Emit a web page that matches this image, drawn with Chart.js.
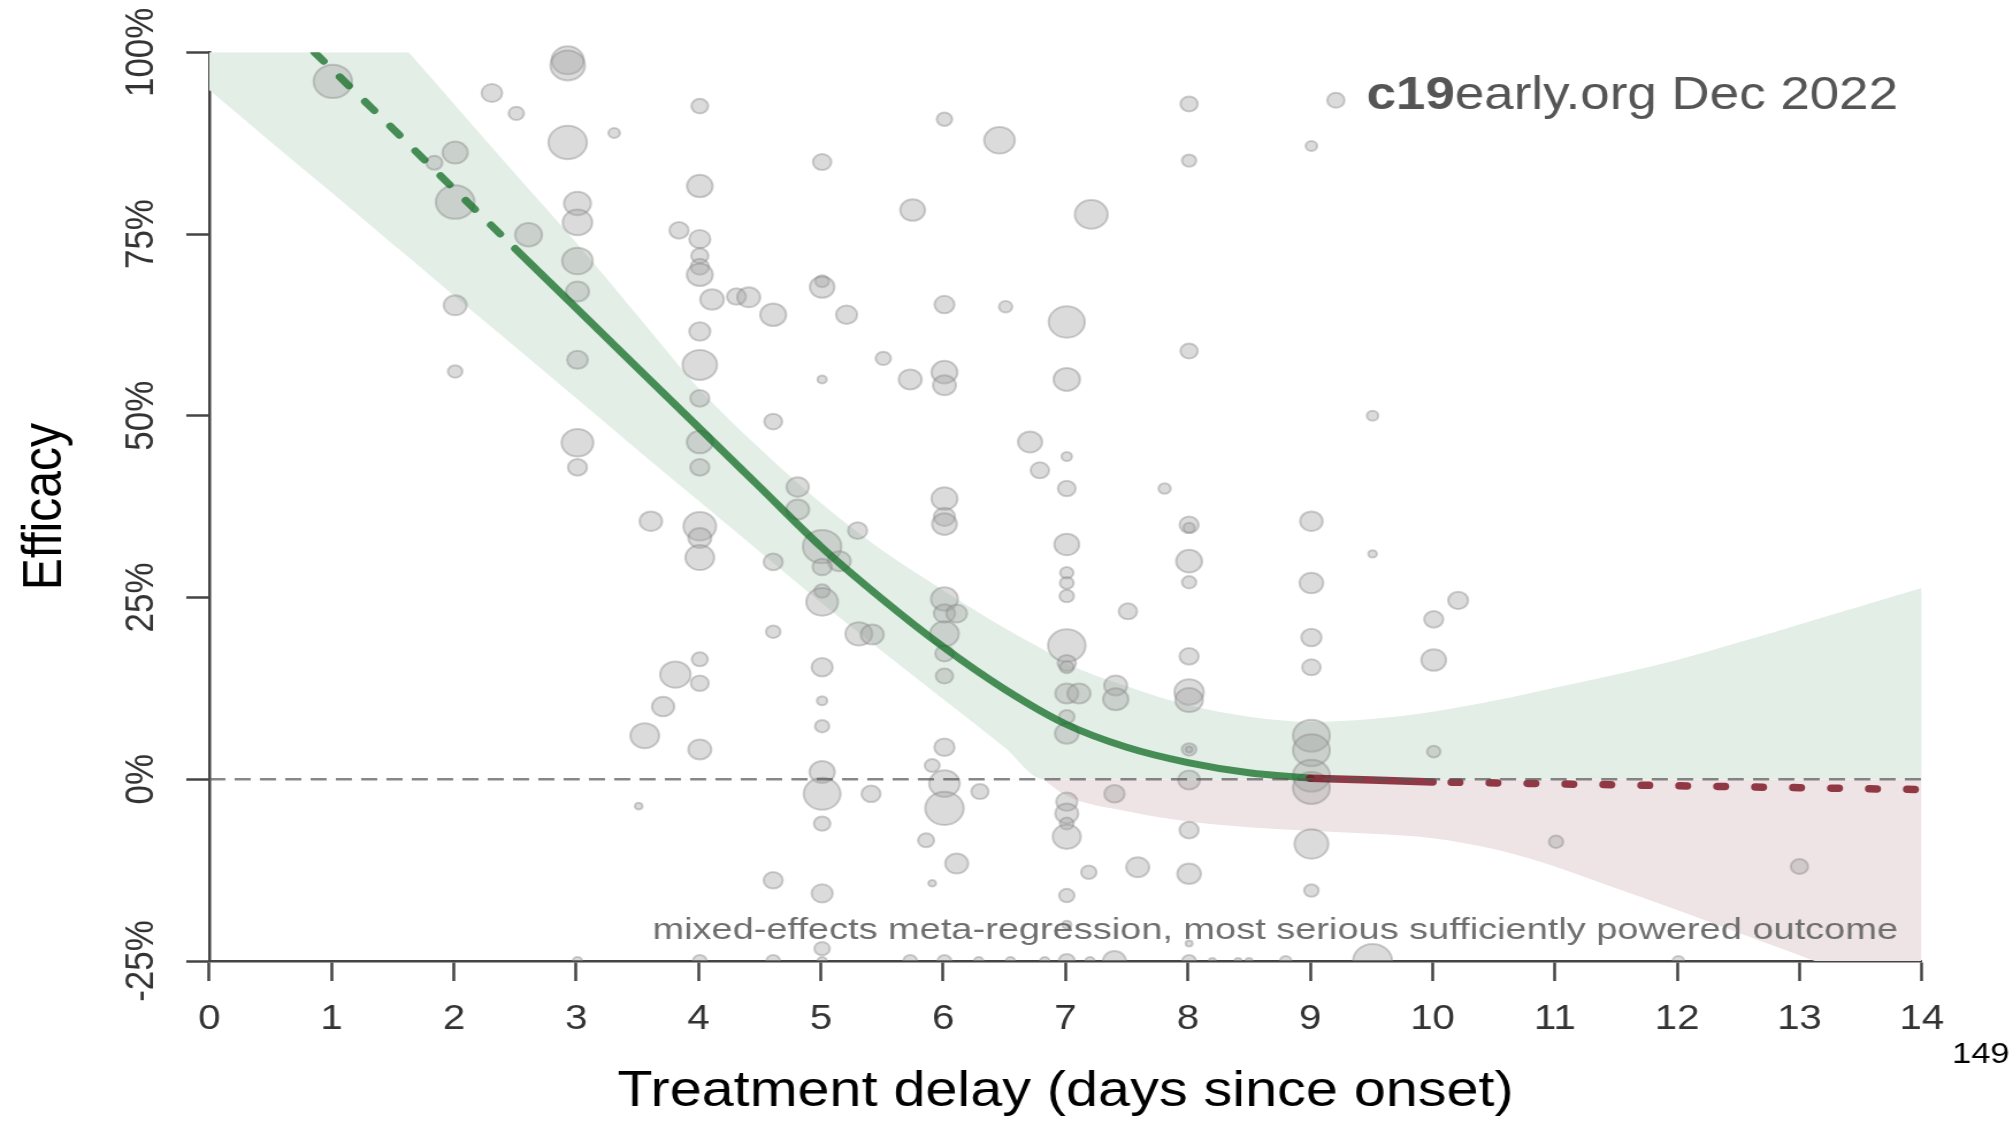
<!DOCTYPE html>
<html><head><meta charset="utf-8">
<script src="https://cdn.jsdelivr.net/npm/chart.js@4.4.0/dist/chart.umd.min.js"></script>
<style>
html,body{margin:0;padding:0;background:#fff;overflow:hidden}
#wrap{width:2013px;height:1121px}
canvas{display:block}
</style>
</head><body>
<div id="wrap"><canvas id="c" width="1750" height="1121" style="width:2013px;height:1121px"></canvas></div>
<script>
// ---------------- data ----------------
const xTicks = [0,1,2,3,4,5,6,7,8,9,10,11,12,13,14];
const yTicks = [-25,0,25,50,75,100];

const xTitle = 'Treatment delay (days since onset)';
const yTitle = 'Efficacy';
const brandBold = 'c19';
const brandRest = 'early.org Dec 2022';
const noteText = 'mixed-effects meta-regression, most serious sufficiently powered outcome';
const pageNumber = '149';

// regression line (efficacy %)
const trendDashedX = [0.86, 1.5, 2, 2.5];
const trendDashedY = [100, 89.5, 81.2, 73.0];
const trendSolidX = [2.5, 3, 3.5, 4, 4.5, 5, 5.5, 6, 6.5, 7, 7.5, 8, 8.5, 9];
const trendSolidY = [73.0, 64.8, 56.6, 48.4, 40.2, 32.0, 24.8, 18.2, 12.4, 7.6, 4.4, 2.3, 0.9, 0.15];
const flatSolidX = [9, 9.5, 10];
const flatSolidY = [0.15, -0.1, -0.37];
const flatDottedX = [10, 11, 12, 13, 14];
const flatDottedY = [-0.37, -0.63, -0.9, -1.16, -1.42];

// confidence band
const bandX     = [0,0.5,1,1.5,1.63,2,2.5,3,3.5,4,4.5,5,5.5,6,6.5,6.82,7,7.5,8,8.5,9,9.5,10,10.5,11,11.5,12,12.5,13,13.5,14];
const bandUpper = [131.3,121.7,112.1,102.5,100,92.9,83.3,73.8,63.8,53.8,45.5,38,31.5,26,20.8,17.8,16,12.8,10.2,8.6,7.9,8.3,9.3,10.8,12.6,14.4,16.4,18.8,21.3,23.8,26.3];
const bandLower = [94.8,87.7,80.7,73.6,71.8,66.5,59.5,52.4,45.3,38.3,31.3,24.3,17.6,11.0,4.4,0,-2.2,-4.4,-5.8,-6.6,-7.1,-7.5,-8.1,-9.6,-12,-15,-18,-21.1,-24.2,-27.4,-30.6];

// individual studies: delay (days), efficacy (%), marker radius (weight)
const studyDelay = [
 1.01,1.84,2.01,2.01,2.01,2.01,2.31,2.51,2.61,
 2.93,2.93,2.93,3.01,3.01,3.01,3.01,3.01,3.01,3.01,3.01,3.31,3.51,3.56,3.61,3.71,3.81,3.84,
 4.01,4.01,4.01,4.01,4.01,4.01,4.01,4.01,4.01,4.01,4.01,4.01,4.01,4.01,4.01,4.01,4.01,4.01,
 4.11,4.31,4.41,4.61,4.61,4.61,4.61,4.61,4.61,4.81,4.81,
 5.01,5.01,5.01,5.01,5.01,5.15,5.01,5.01,5.01,5.01,5.01,5.01,5.01,5.01,5.01,5.01,5.01,5.01,
 5.21,5.30,5.31,5.42,5.41,5.51,5.73,5.73,5.75,5.86,5.91,5.91,
 6.01,6.01,6.01,6.01,6.01,6.01,6.01,6.01,6.01,6.11,6.01,6.01,6.01,6.01,6.01,6.01,6.01,
 6.11,6.30,6.29,6.46,6.51,6.55,6.71,6.79,6.83,
 7.01,7.01,7.01,7.01,7.01,7.01,7.01,7.01,7.01,7.01,7.01,7.01,7.11,7.01,7.01,7.01,7.01,7.01,7.01,7.01,7.01,7.01,
 7.19,7.20,7.21,7.40,7.40,7.41,7.41,7.51,7.59,7.81,
 8.01,8.01,8.01,8.01,8.01,8.01,8.01,8.01,8.01,8.01,8.01,8.01,8.01,8.01,8.01,8.01,8.01,8.20,8.41,8.50,8.80,
 9.01,9.01,9.01,9.01,9.01,9.01,9.01,9.01,9.01,9.01,9.01,9.21,9.51,9.51,9.51,
 10.01,10.01,10.01,10.21,11.01,12.01,13.0
];
const studyEfficacy = [
 96.0,84.8,86.2,79.4,65.2,56.1,94.4,91.6,74.9,
 98.9,98.2,87.6,79.2,76.6,71.3,67.1,57.7,46.3,42.9,-25,88.9,-3.7,6.0,35.5,10.0,14.4,75.5,
 92.6,81.6,74.3,72.0,70.5,69.4,61.6,57.0,52.4,46.4,42.9,34.8,33.2,30.5,16.5,13.2,4.1,-25,
 66.0,66.4,66.3,63.9,49.2,29.9,20.3,-13.9,-25,40.2,37.1,
 84.9,68.5,67.7,55.0,32.0,30.0,29.2,25.9,24.4,15.4,10.8,7.3,1.0,-2.0,-6.1,-15.7,-23.3,-25,
 63.9,34.2,20.0,19.9,-2.0,57.9,55.0,-25,78.3,-8.4,1.9,-14.3,
 90.8,65.3,56.0,54.2,38.6,36.1,35.1,24.8,22.8,22.8,20.0,17.3,14.2,4.4,-0.6,-4.0,-25,
 -11.6,-1.7,-25,87.9,65.0,-25,46.4,42.5,-25,
 62.9,55.0,44.4,40.0,32.3,28.4,27.0,25.2,18.4,16.0,15.4,11.8,11.8,8.6,6.3,-3.1,-4.7,-6.1,-7.9,-16.0,-20.0,-25,
 -12.8,-25,77.7,-2.0,-25,12.9,11.0,23.1,-12.1,40.0,
 92.9,85.1,58.9,35.0,34.6,30.0,27.1,16.9,12.0,10.9,4.1,4.1,-0.1,-7.0,-13.0,-22.6,-25,-25,-25,-25,-25,
 87.1,35.5,27.0,19.5,15.4,6.0,4.0,0.5,-1.2,-8.9,-15.3,93.4,50.0,31.0,-25,
 22.0,16.4,3.8,24.6,-8.6,-25,-12.0
];
const studyRadius = [
 16.7,7,11,16.8,10,6.3,9,6.7,11.7,
 14,15,16.7,11.7,12.8,13.3,10,9,13.8,8.3,4,5,3.3,12.5,9.8,9.7,13.2,8.3,
 7.3,11.2,9.2,7.5,8,11.3,9.2,15,8.3,11.3,8.3,14.2,10,12.5,7,7.8,10,6,
 10.3,8.3,10,11.3,7.8,8.3,6.3,8.3,6,9.7,10,
 8,6,10.7,4,16.7,10,8.3,6.7,13.8,9.2,4.5,6.2,11,16,7.2,9.2,6.7,4,
 9.2,8.3,11.7,10,8.3,6.7,10,6,10.8,7,6.5,3.3,
 6.7,8.7,11.3,10,11.3,9.2,10.8,11.7,9.3,9,12.5,8,7.5,8.8,13.3,16.7,6,
 10,7.5,4,13.3,5.8,4,10.5,8,4,
 15.7,11.5,4.5,7.7,10.8,5.8,6,6.3,16.3,8,6,10,10,6.7,10.3,9.2,10,6,12.2,6.7,4,7,
 6.7,4,14.3,8.8,10,10,11,8,10,5.3,
 7.5,6.2,7.5,8.3,5,11.3,6.2,8.3,12.8,12,6.3,3,9.5,8.3,10.3,3,6,3,3,3,5,
 5,9.8,10.3,8.8,8,16,16,16,16,14.7,6.3,7.5,5,3.7,17,
 8.3,10.8,5.8,8.7,6.2,5,7.5
];

// ---------------- chart ----------------
const FAM = "'Liberation Sans', Arial, Helvetica, sans-serif";
Chart.defaults.font.family = FAM;

const pts = (xs, ys) => xs.map((x, i) => ({x: x, y: ys[i]}));
const bandLowerPos = bandLower.map(v => Math.max(v, 0));

const GREEN = 'rgba(20,110,40,0.76)';
const RED = 'rgba(120,12,28,0.8)';
const BAND_GREEN = '#e3eee6';
const BAND_PINK = '#eee3e5';

const notesPlugin = {
  id: 'notes',
  afterDraw(chart) {
    const c = chart.ctx, a = chart.chartArea;
    const xr = a.right - 20.7;
    c.save();
    c.textBaseline = 'alphabetic';
    c.textAlign = 'left';
    c.fillStyle = '#555555';
    c.font = '46px ' + FAM;
    const wr = c.measureText(brandRest).width;
    c.font = 'bold 46px ' + FAM;
    const wb = c.measureText(brandBold).width;
    c.fillText(brandBold, xr - wr - wb, a.top + 57);
    c.font = '46px ' + FAM;
    c.fillText(brandRest, xr - wr, a.top + 57);
    c.restore();

    c.save();
    c.fillStyle = '#6f6f6f';
    c.font = '30px ' + FAM;
    c.textAlign = 'right';
    c.textBaseline = 'alphabetic';
    c.translate(xr, a.bottom - 22.5);
    c.scale(1.1, 1);
    c.fillText(noteText, 0, 0);
    c.restore();

    c.save();
    c.fillStyle = '#000';
    c.font = '30px ' + FAM;
    c.textAlign = 'left';
    c.textBaseline = 'alphabetic';
    c.fillText(pageNumber, a.right + 26.3, a.bottom + 102);
    c.restore();
  }
};

const lineBase = {type: 'line', pointRadius: 0, pointHoverRadius: 0, fill: false, showLine: true};

new Chart(document.getElementById('c'), {
  type: 'scatter',
  data: {
    datasets: [
      // 0 zero reference line
      Object.assign({}, lineBase, {data: pts([xTicks[0], xTicks[xTicks.length-1]], [0, 0]),
        borderColor: 'rgba(85,85,85,0.7)', borderWidth: 2.5, borderDash: [14, 8], tension: 0, order: 1}),
      // 1 red dotted extrapolation
      Object.assign({}, lineBase, {data: pts(flatDottedX, flatDottedY), borderColor: RED, borderWidth: 7.5,
        borderDash: [6.5, 26.5], borderDashOffset: 16.25, borderCapStyle: 'round', tension: 0, order: 2}),
      // 2 red solid
      Object.assign({}, lineBase, {data: pts(flatSolidX, flatSolidY), borderColor: RED, borderWidth: 7.5,
        borderCapStyle: 'round', tension: 0, order: 2}),
      // 3 green solid
      Object.assign({}, lineBase, {data: pts(trendSolidX, trendSolidY), borderColor: GREEN, borderWidth: 7,
        borderCapStyle: 'round', cubicInterpolationMode: 'monotone', order: 3}),
      // 4 green dashed
      Object.assign({}, lineBase, {data: pts(trendDashedX, trendDashedY), borderColor: GREEN, borderWidth: 7,
        borderDash: [12, 21], borderCapStyle: 'round', tension: 0, order: 3}),
      // 5 studies
      {type: 'bubble', data: studyDelay.map((d, i) => ({x: d, y: studyEfficacy[i], r: studyRadius[i]})),
        backgroundColor: 'rgba(165,165,165,0.4)', borderColor: 'rgba(135,135,135,0.4)', borderWidth: 2,
        hoverRadius: 0, clip: {left: 0, top: 30, right: 0, bottom: 0}, order: 5},
      // 6 band upper, filled green down to clamped lower
      Object.assign({}, lineBase, {data: pts(bandX, bandUpper), borderColor: 'rgba(0,0,0,0)', borderWidth: 0,
        cubicInterpolationMode: 'monotone', fill: {target: 7, above: BAND_GREEN, below: BAND_GREEN}, order: 10}),
      // 7 band lower clamped at zero
      Object.assign({}, lineBase, {data: pts(bandX, bandLowerPos), borderColor: 'rgba(0,0,0,0)', borderWidth: 0,
        cubicInterpolationMode: 'monotone', order: 10}),
      // 8 band lower, pink below zero
      Object.assign({}, lineBase, {data: pts(bandX, bandLower), borderColor: 'rgba(0,0,0,0)', borderWidth: 0,
        cubicInterpolationMode: 'monotone', fill: {value: 0, above: 'rgba(0,0,0,0)', below: BAND_PINK}, order: 10})
    ]
  },
  options: {
    responsive: false,
    devicePixelRatio: 1,
    animation: false,
    events: [],
    layout: {padding: {top: 52.3, right: 79.3, bottom: 0, left: 0}},
    plugins: {legend: {display: false}, tooltip: {enabled: false}, title: {display: false}},
    scales: {
      x: {
        type: 'linear', position: 'bottom', min: 0, max: 14, z: 1,
        afterBuildTicks: s => { s.ticks = xTicks.map(v => ({value: v})); },
        afterFit: s => { s.height = 160; },
        ticks: {font: {size: 35}, color: '#333', padding: 17.6, maxRotation: 0, autoSkip: false},
        grid: {display: true, drawOnChartArea: false, drawTicks: true, tickLength: 20, tickWidth: 2.5, tickColor: '#444'},
        border: {display: true, color: '#444', width: 2.5},
        title: {display: true, text: xTitle, color: '#000', font: {size: 50, lineHeight: 1}, padding: {top: 0, bottom: 3.3}}
      },
      y: {
        type: 'linear', position: 'left', min: -25, max: 100, z: 1,
        afterBuildTicks: s => { s.ticks = yTicks.map(v => ({value: v})); },
        afterFit: s => { s.width = 181.95; },
        ticks: {font: {size: 35}, color: '#333', padding: -6.3, minRotation: 90, maxRotation: 90, crossAlign: 'center',
          callback: v => v + '%'},
        grid: {display: true, drawOnChartArea: false, drawTicks: true, tickLength: 20, tickWidth: 2.5, tickColor: '#444'},
        border: {display: true, color: '#444', width: 2.5},
        title: {display: true, text: yTitle, color: '#000', font: {size: 48, lineHeight: 1}, padding: {top: 15.7, bottom: 0}}
      }
    }
  },
  plugins: [notesPlugin]
});
</script>
</body></html>
